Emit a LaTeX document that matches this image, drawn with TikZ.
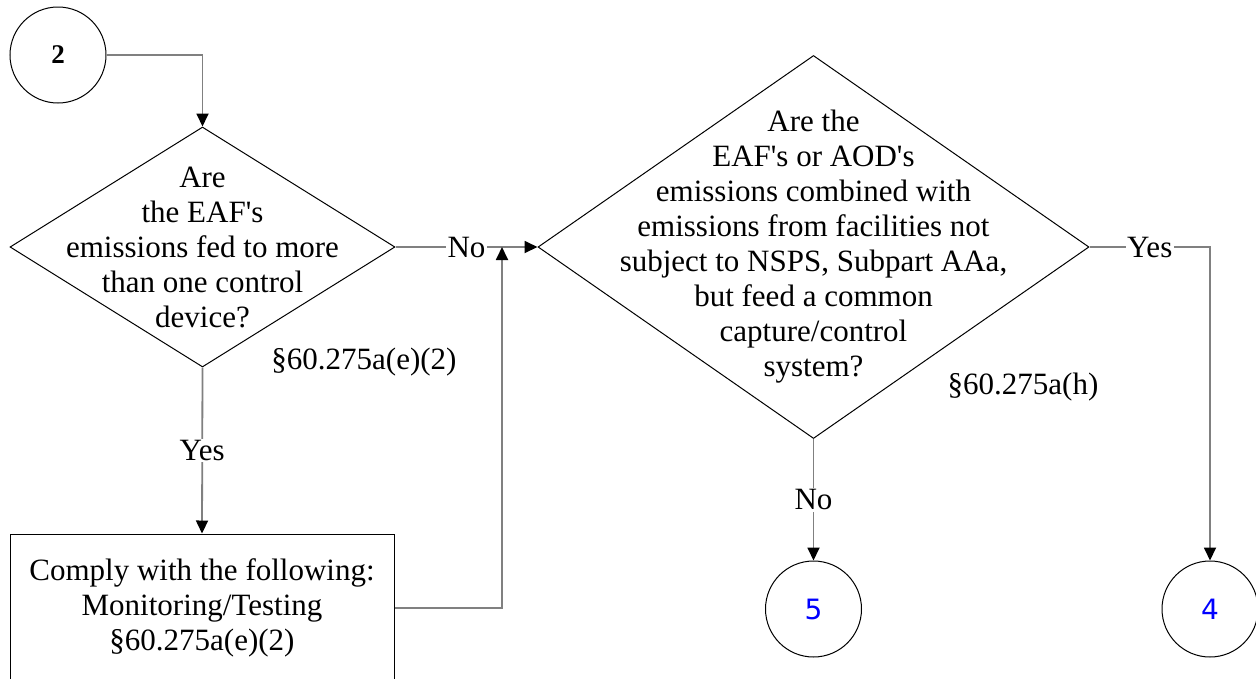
\documentclass[tikz,border=0pt]{standalone}
\usepackage{fontspec}
\setmainfont{Liberation Serif}[Ligatures=TeXOff]
\newfontfamily\digitsans{DejaVu Sans}
\usetikzlibrary{shapes.geometric,arrows.meta}
\definecolor{linegray}{RGB}{128,128,128}
\definecolor{numblue}{RGB}{0,0,255}
\begin{document}
\begin{tikzpicture}[x=1pt,y=-1pt,
  shapeline/.style={draw=black, line width=1pt},
  conn/.style={draw=linegray, line width=1.8pt},
  arr/.style={conn, -{Triangle[length=13pt,width=12pt,color=black]}},
  txt/.style={align=center, font=\fontsize{31}{35}\selectfont, inner sep=0pt},
  lbl/.style={fill=white, inner sep=1.5pt, font=\fontsize{31}{35}\selectfont},
  circ/.style={circle, shapeline, minimum size=96pt, inner sep=0pt},
  dia/.style={diamond, shapeline, inner sep=0pt},
  numtxt/.style={font=\digitsans\fontsize{28}{28}\selectfont, text=numblue}]
\useasboundingbox (0,0) rectangle (1256,678);
\clip (0,0) rectangle (1256,678);

\node[circ] (c2) at (58,55) {\fontsize{27}{27}\selectfont\bfseries 2};

\node[dia, minimum width=385pt, minimum height=240pt] (d1) at (202.5,247) {};
\node[txt] (t1) at (d1.center) {Are\\the EAF's\\emissions fed to more\\than one control\\device?};
\node[txt] (r1) at (364,362) {§60.275a(e)(2)};

\node[txt, shapeline, minimum width=384pt, minimum height=148pt] (box) at (202,608)
  {Comply with the following:\\Monitoring/Testing\\§60.275a(e)(2)};

\node[dia, minimum width=551pt, minimum height=383pt] (d2) at (813.5,247) {};
\node[txt] (t2) at (d2.center) {Are the\\EAF's or AOD's\\emissions combined with\\emissions from facilities not\\subject to NSPS, Subpart AAa,\\but feed a common\\capture/control\\system?};
\node[txt] (r2) at (1023,387) {§60.275a(h)};

\node[circ, numtxt] (c5) at (813.5,609) {5};
\node[circ, numtxt] (c4) at (1210,609) {4};

\coordinate (mrg) at (502,247);

\draw[arr] (c2.east) -| (d1.north);
\draw[arr] (d1.east) -- node[lbl] {No} (d2.west);
\draw[arr] (d1.south) -- node[lbl] {Yes} (box.north);
\draw[arr] (box.east) -| (mrg);
\draw[arr] (d2.east) -| node[lbl, pos=0.25] {Yes} (c4.north);
\draw[arr] (d2.south) -- node[lbl] {No} (c5.north);
\end{tikzpicture}
\end{document}
